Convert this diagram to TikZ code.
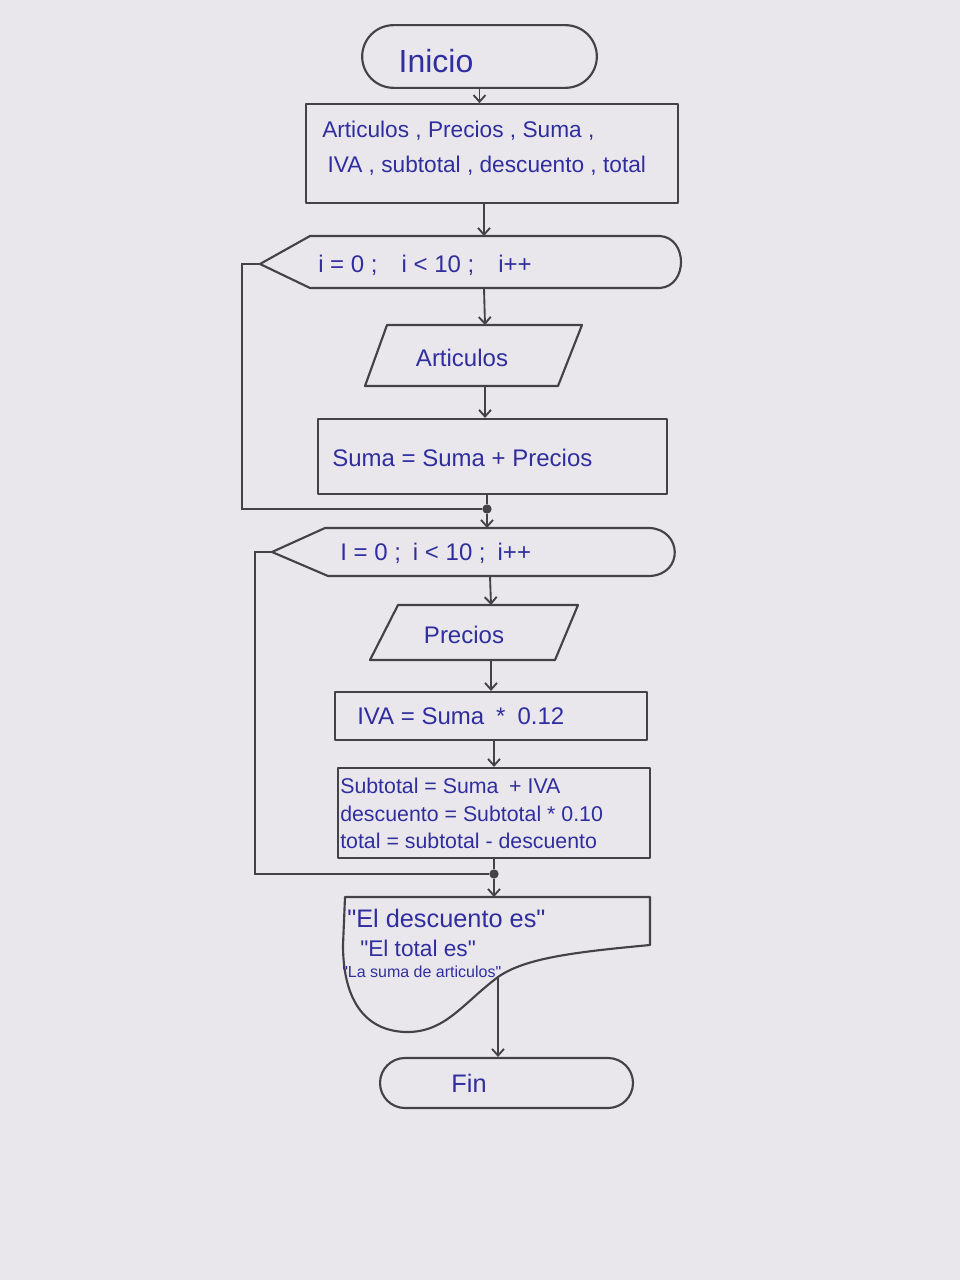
\documentclass[tikz,border=0pt]{standalone}
\usepackage{fontspec}
\setmainfont{Liberation Sans}
\newfontfamily\qfont{Liberation Sans}
\usetikzlibrary{arrows.meta,shapes.misc}
\definecolor{paper}{RGB}{233,231,236}
\definecolor{linec}{RGB}{68,66,70}
\definecolor{ink}{RGB}{48,46,158}
\newcommand\dq{{\qfont"}}
\tikzset{
  outline/.style={draw=linec, line width=1.6pt, line join=round},
  boxnode/.style={outline, rectangle, inner sep=0pt},
  term/.style={outline, rounded rectangle, inner sep=0pt},
  txt/.style={text=ink, inner sep=0pt, font=\fontsize{18}{21}\selectfont},
  arr/.style={draw=linec, line width=1.4pt, -{Straight Barb[length=5pt,width=9pt,line width=1.4pt]}},
  flow/.style={draw=linec, line width=1.4pt},
  jdot/.style={circle, fill=linec, draw=none, minimum size=7pt, inner sep=0pt}
}
\begin{document}
\begin{tikzpicture}[x=0.75pt,y=-0.75pt]
\useasboundingbox (0,0) rectangle (960,1280);
\fill[paper] (0,0) rectangle (960,1280);

% Inicio
\node[term, minimum width=176pt, minimum height=47pt] (inicio) at (479.5,56.5) {};
\node[txt, font=\fontsize{24}{27}\selectfont] (inicioT) at (436,61) {Inicio};

% declarations
\node[boxnode, minimum width=279pt, minimum height=74pt] (decl) at (492,153.5) {};
\node[txt, align=left, anchor=north west, font=\fontsize{17}{26}\selectfont] (declT) at (322,121)
  {Articulos , Precios , Suma ,\\ \hspace{4pt}IVA , subtotal , descuento , total};

% loop 1
\coordinate (l1n) at (484,236);
\coordinate (l1s) at (484,288);
\coordinate (l1tip) at (260,264);
\draw[outline] (l1tip) -- (310,236) -- (660,236) .. controls (688,238) and (688,286) .. (660,288) -- (310,288) -- cycle;
\node[txt, anchor=west] (l1T) at (318,265) {i = 0 ;\quad i < 10 ;\quad i++};

% Articulos
\coordinate (artn) at (485,325);
\coordinate (arts) at (485,386);
\draw[outline] (387,325) -- (582,325) -- (558,386) -- (365,386) -- cycle;
\node[txt] (artT) at (462,358) {Articulos};

% Suma
\node[boxnode, minimum width=261.75pt, minimum height=56.25pt] (suma) at (492.5,456.5) {};
\node[txt, anchor=west] (sumaT) at (332,458) {Suma = Suma + Precios};

% junction 1
\node[jdot] (j1) at (487,509) {};

% loop 2
\coordinate (l2n) at (489,528);
\coordinate (l2s) at (490,576);
\coordinate (l2tip) at (272,552);
\draw[outline] (l2tip) -- (325,528) -- (650,528) .. controls (682,530) and (684,574) .. (650,576) -- (328,576) -- cycle;
\node[txt, anchor=west] (l2T) at (340,553) {I = 0 ;\enspace i < 10 ;\enspace i++};

% Precios
\coordinate (precn) at (491,605);
\coordinate (precs) at (491,660);
\draw[outline] (398,605) -- (578,605) -- (555,660) -- (370,660) -- cycle;
\node[txt] (precT) at (464,635) {Precios};

% IVA
\node[boxnode, minimum width=234pt, minimum height=36pt] (iva) at (491,716) {};
\node[txt, anchor=west] (ivaT) at (357,716) {IVA = Suma\enspace *\enspace 0.12};

% calculations
\node[boxnode, minimum width=234pt, minimum height=67.5pt] (calc) at (494,813) {};
\node[txt, align=left, anchor=north west, font=\fontsize{16}{20.5}\selectfont] (calcT) at (340,778)
  {Subtotal = Suma\enspace + IVA\\descuento = Subtotal * 0.10\\ total = subtotal - descuento};

% junction 2
\node[jdot] (j2) at (494,874) {};

% display
\coordinate (dispn) at (494,897);
\coordinate (disps) at (498,977);
\draw[outline] (345,897) -- (650,897) -- (650,945)
  .. controls (575,952) and (525,958) .. (498,977)
  .. controls (462,1004) and (445,1033) .. (405,1032)
  .. controls (358,1030) and (343,990) .. (343,945) -- cycle;
\node[txt, anchor=west, font=\fontsize{19}{21}\selectfont] (d1) at (347,918) {\dq El descuento es\dq};
\node[txt, anchor=west, font=\fontsize{17}{20}\selectfont] (d2) at (360,948) {\dq El total es\dq};
\node[txt, anchor=west, font=\fontsize{12}{14}\selectfont] (d3) at (342,972) {\dq La suma de articulos\dq};

% Fin
\node[term, minimum width=189.75pt, minimum height=37.5pt] (fin) at (506.5,1083) {};
\node[txt, font=\fontsize{19}{22}\selectfont] (finT) at (469,1083) {Fin};

% connectors
\draw[arr] (inicio.south) -- (inicio.south |- decl.north);
\draw[arr] (decl.south -| l1n) -- (l1n);
\draw[arr] (l1s) -- (artn);
\draw[arr] (arts) -- (arts |- suma.north);
\draw[flow] (suma.south -| j1) -- (j1);
\draw[arr] (j1) -- (j1 |- l2n);
\draw[flow] (l1tip) -- ++(-18,0) |- (j1);
\draw[arr] (l2s) -- (precn);
\draw[arr] (precs) -- (precs |- iva.north);
\draw[arr] (iva.south -| calc.north) -- (calc.north);
\draw[flow] (calc.south -| j2) -- (j2);
\draw[arr] (j2) -- (dispn);
\draw[flow] (l2tip) -- ++(-17,0) |- (j2);
\draw[arr] (disps) -- (disps |- fin.north);
\end{tikzpicture}
\end{document}
